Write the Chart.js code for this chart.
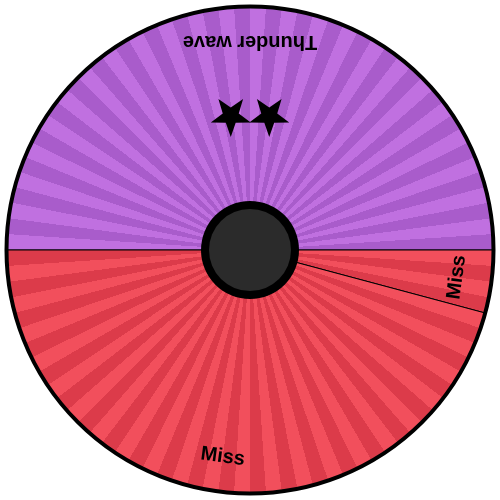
<!DOCTYPE html>
<html>
<head>
<meta charset="utf-8">
<script src="https://cdn.jsdelivr.net/npm/chart.js@4.4.1/dist/chart.umd.min.js"></script>
<style>
  html, body { margin: 0; padding: 0; background: #fff; }
  #wheel { display: block; }
</style>
</head>
<body>
<canvas id="wheel" width="500" height="500"></canvas>
<script>
/* wheel segments (sizes out of 96) */
var MOVE_NAMES   = ['Thunder wave', 'Miss', 'Miss'];
var MOVE_SIZES   = [48, 4, 44];
var MOVE_STARS   = [2, 0, 0];
var LIGHT_COLORS = ['#c070e0', '#f24f5c', '#f24f5c'];
var DARK_COLORS  = ['#a95ccb', '#dc3b4a', '#dc3b4a'];
var STRIPE_COUNT = 96;

var _gradients = {};

// conic gradient with hard stops -> alternating rays
function stripeGradient(chart, idx) {
  var area = chart.chartArea;
  if (!area) return LIGHT_COLORS[idx];
  if (_gradients[idx]) return _gradients[idx];
  var cx = (area.left + area.right) / 2;
  var cy = (area.top + area.bottom) / 2;
  var g = chart.ctx.createConicGradient(0, cx, cy);
  for (var i = 0; i < STRIPE_COUNT; i++) {
    var c = (i % 2 === 0) ? LIGHT_COLORS[idx] : DARK_COLORS[idx];
    g.addColorStop(i / STRIPE_COUNT, c);
    g.addColorStop((i + 1) / STRIPE_COUNT, c);
  }
  _gradients[idx] = g;
  return g;
}

function drawStar(ctx, x, y, R) {
  var r = R * 0.4;
  ctx.beginPath();
  for (var i = 0; i < 10; i++) {
    var rad = (i % 2 === 0) ? R : r;
    var a = -Math.PI / 2 + i * Math.PI / 5;
    var px = x + rad * Math.cos(a);
    var py = y + rad * Math.sin(a);
    if (i === 0) ctx.moveTo(px, py); else ctx.lineTo(px, py);
  }
  ctx.closePath();
  ctx.fill();
}

var wheelDecor = {
  id: 'wheelDecor',
  afterDatasetsDraw: function (chart) {
    var ctx  = chart.ctx;
    var arcs = chart.getDatasetMeta(0).data;
    if (!arcs.length) return;
    var cx = arcs[0].x, cy = arcs[0].y;
    var R  = arcs[0].outerRadius;

    // labels + stars
    ctx.save();
    ctx.fillStyle = '#000';
    ctx.font = 'bold 20px "Liberation Sans", Arial, sans-serif';
    ctx.textAlign = 'center';
    ctx.textBaseline = 'middle';
    arcs.forEach(function (arc, i) {
      var mid = (arc.startAngle + arc.endAngle) / 2;
      var rot = mid - Math.PI / 2;

      ctx.save();
      ctx.translate(cx + (R - 35) * Math.cos(mid), cy + (R - 35) * Math.sin(mid));
      ctx.rotate(rot);
      ctx.fillText(MOVE_NAMES[i], 0, 0);
      ctx.restore();

      var n = MOVE_STARS[i];
      if (n > 0) {
        ctx.save();
        ctx.translate(cx + 134 * Math.cos(mid), cy + 134 * Math.sin(mid));
        ctx.rotate(rot);
        for (var k = 0; k < n; k++) {
          drawStar(ctx, (k - (n - 1) / 2) * 38.5, 0, 21);
        }
        ctx.restore();
      }
    });
    ctx.restore();

    // outer rim
    ctx.save();
    ctx.beginPath();
    ctx.arc(cx, cy, R, 0, Math.PI * 2);
    ctx.lineWidth = 4;
    ctx.strokeStyle = '#000';
    ctx.stroke();

    // hub
    ctx.beginPath();
    ctx.arc(cx, cy, 49, 0, Math.PI * 2);
    ctx.fillStyle = '#000';
    ctx.fill();
    ctx.beginPath();
    ctx.arc(cx, cy, 41, 0, Math.PI * 2);
    ctx.fillStyle = '#2b2b2b';
    ctx.fill();
    ctx.restore();
  },
};

new Chart(document.getElementById('wheel'), {
  type: 'pie',
  data: {
    labels: MOVE_NAMES,
    datasets: [{
      data: MOVE_SIZES,
      backgroundColor: function (c) { return stripeGradient(c.chart, c.dataIndex); },
      borderColor: '#000',
      borderWidth: 1,
    }],
  },
  options: {
    responsive: false,
    animation: false,
    rotation: 270,
    layout: { padding: 6 },
    plugins: {
      legend:  { display: false },
      tooltip: { enabled: false },
    },
  },
  plugins: [wheelDecor],
});
</script>
</body>
</html>
